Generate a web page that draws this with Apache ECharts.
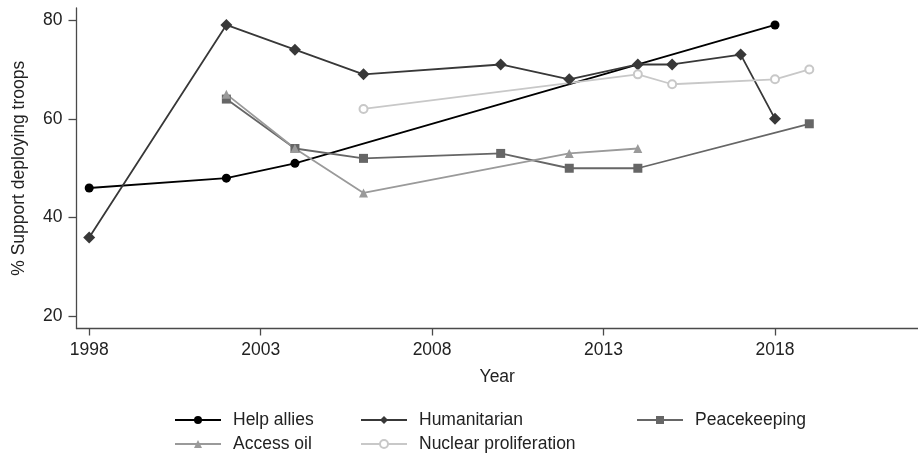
<!DOCTYPE html>
<html>
<head>
<meta charset="utf-8">
<script src="https://cdn.jsdelivr.net/npm/echarts@6/dist/echarts.min.js"></script>
<style>
  html, body { margin: 0; padding: 0; background: #fff; }
  #chart { width: 918px; height: 460px; }
</style>
</head>
<body>
<div id="chart"></div>
<script>
// Survey series: % support for deploying troops, by stated purpose
const helpAlliesYears = [1998, 2002, 2004, 2018];
const helpAlliesValues = [46, 48, 51, 79];

const humanitarianYears = [1998, 2002, 2004, 2006, 2010, 2012, 2014, 2015, 2017, 2018];
const humanitarianValues = [36, 79, 74, 69, 71, 68, 71, 71, 73, 60];

const peacekeepingYears = [2002, 2004, 2006, 2010, 2012, 2014, 2019];
const peacekeepingValues = [64, 54, 52, 53, 50, 50, 59];

const accessOilYears = [2002, 2004, 2006, 2012, 2014];
const accessOilValues = [65, 54, 45, 53, 54];

const nuclearYears = [2006, 2014, 2015, 2018, 2019];
const nuclearValues = [62, 69, 67, 68, 70];

const xTickLabels = [1998, 2003, 2008, 2013, 2018];
const yTickLabels = [20, 40, 60, 80];

const FONT = '"Liberation Sans", Arial, sans-serif';
const AXIS_COLOR = '#4a4a4a';
const TEXT_COLOR = '#222';

function pairs(xs, ys) {
  return xs.map((x, i) => [x, ys[i]]);
}

function lineSeries(name, xs, ys, color, symbol, size) {
  return {
    name: name,
    type: 'line',
    data: pairs(xs, ys),
    symbol: symbol,
    symbolSize: size,
    showAllSymbol: true,
    lineStyle: { color: color, width: 1.8 },
    itemStyle: symbol === 'emptyCircle'
      ? { color: color, borderColor: color, borderWidth: 1.5 }
      : { color: color, borderWidth: 0 },
    emphasis: { disabled: true },
    animation: false,
    z: 3
  };
}

const series = [
  lineSeries('Help allies', helpAlliesYears, helpAlliesValues, '#000000', 'circle', 9),
  lineSeries('Humanitarian', humanitarianYears, humanitarianValues, '#383838', 'diamond', 12),
  lineSeries('Peacekeeping', peacekeepingYears, peacekeepingValues, '#666666', 'rect', 9),
  lineSeries('Access oil', accessOilYears, accessOilValues, '#9a9a9a', 'triangle', 9),
  lineSeries('Nuclear proliferation', nuclearYears, nuclearValues, '#c8c8c8', 'emptyCircle', 8)
];

// one legend entry per component so the 3-column / 2-row block sits exactly
function legendItem(name, left, centerY) {
  return {
    left: left,
    top: centerY - 10,
    itemWidth: 46,
    itemHeight: 10,
    padding: 0,
    selectedMode: false,
    data: [name],
    textStyle: {
      fontFamily: FONT,
      fontSize: 17.5,
      color: TEXT_COLOR,
      lineHeight: 20,
      padding: [0, 0, 0, 7]
    }
  };
}

const chart = echarts.init(document.getElementById('chart'), null, { renderer: 'canvas' });

chart.setOption({
  backgroundColor: '#ffffff',
  animation: false,
  grid: { left: 76.5, right: 0, top: 8, bottom: 131.5, containLabel: false },
  xAxis: {
    type: 'value',
    min: 1997.63,
    max: 2022.17,
    name: 'Year',
    nameLocation: 'middle',
    nameGap: 40,
    nameTextStyle: { fontFamily: FONT, fontSize: 17.5, color: TEXT_COLOR },
    axisLine: { show: true, onZero: false, lineStyle: { color: AXIS_COLOR, width: 1.3 } },
    axisTick: { show: true, length: 7, customValues: xTickLabels, lineStyle: { color: AXIS_COLOR, width: 1.3 } },
    axisLabel: {
      customValues: xTickLabels, margin: 13,
      formatter: v => String(v),
      fontFamily: FONT, fontSize: 17.5, color: TEXT_COLOR
    },
    splitLine: { show: false }
  },
  yAxis: {
    type: 'value',
    min: 17.57,
    max: 82.43,
    name: '% Support deploying troops',
    nameLocation: 'middle',
    nameGap: 48,
    nameTextStyle: { fontFamily: FONT, fontSize: 17.5, color: TEXT_COLOR },
    axisLine: { show: true, onZero: false, lineStyle: { color: AXIS_COLOR, width: 1.3 } },
    axisTick: { show: true, length: 8, customValues: yTickLabels, lineStyle: { color: AXIS_COLOR, width: 1.3 } },
    axisLabel: {
      customValues: yTickLabels, margin: 14,
      formatter: v => String(v),
      fontFamily: FONT, fontSize: 17.5, color: TEXT_COLOR
    },
    splitLine: { show: false }
  },
  legend: [
    legendItem('Help allies', 174, 420),
    legendItem('Access oil', 174, 444),
    legendItem('Humanitarian', 360, 420),
    legendItem('Nuclear proliferation', 360, 444),
    legendItem('Peacekeeping', 636, 420)
  ],
  series: series
});
</script>
</body>
</html>
